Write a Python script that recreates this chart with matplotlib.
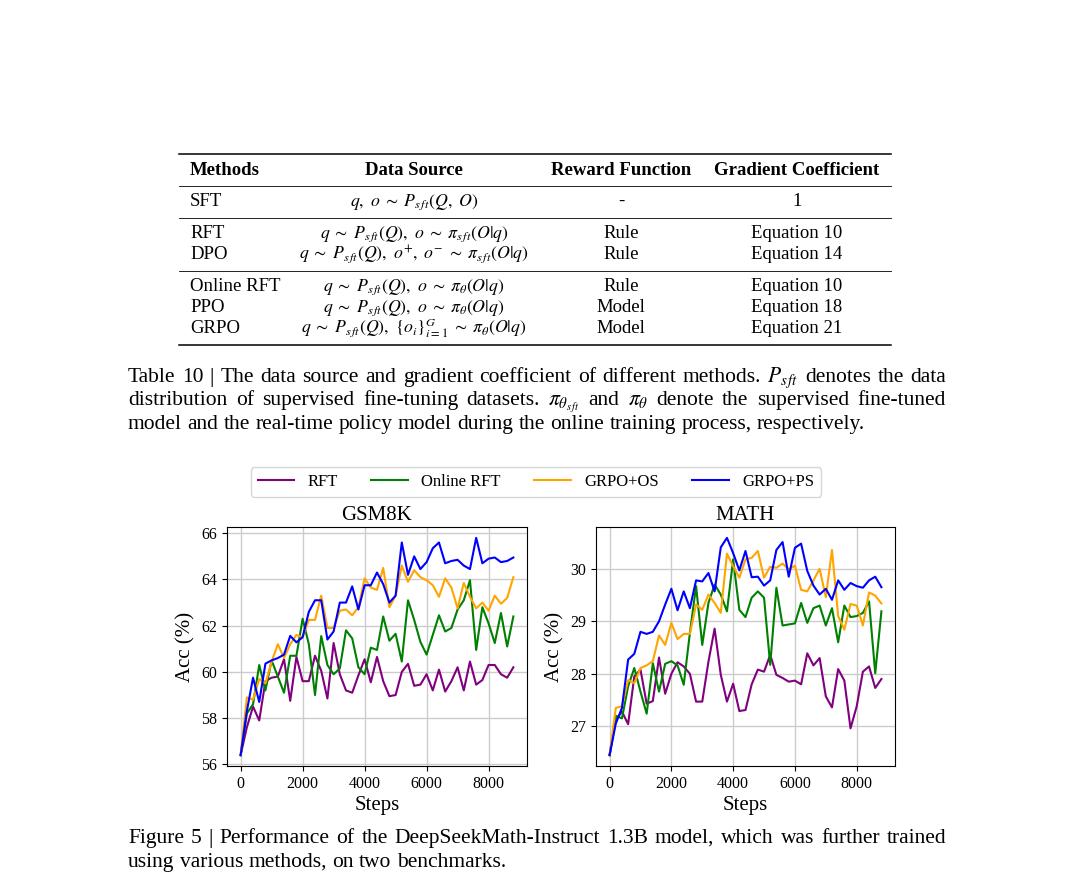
import numpy as np
import matplotlib
matplotlib.use("Agg")
import matplotlib.pyplot as plt
from matplotlib.lines import Line2D

# ---------------- data ----------------
steps = np.arange(0, 8801, 200)
series_names = ["RFT", "Online RFT", "GRPO+OS", "GRPO+PS"]
series_colors = ["purple", "green", "orange", "blue"]

gsm_rft = [56.4, 57.6, 58.5, 57.9, 59.6, 59.75, 59.8, 60.55, 58.75, 60.65, 59.6, 59.6, 60.7, 60.05, 58.85, 61.25,
           59.9, 59.2, 59.1, 59.85, 60.55, 59.55, 60.65, 59.6, 58.95, 59.0, 60.0, 60.35, 59.4, 59.45,
           59.9,
           59.2, 60.1, 59.15, 59.6, 60.2, 59.2, 60.45, 59.45, 59.65, 60.3, 60.3, 59.9, 59.75, 60.2]
gsm_online = [56.4, 58.2, 58.6, 60.3, 59.2, 60.5, 59.8, 59.1, 60.7, 60.7, 62.3, 61.2, 59.0, 61.55, 60.3, 59.9,
              60.15, 61.8, 61.45, 60.2, 59.9, 61.05, 60.95, 62.4, 61.35, 61.65, 60.45, 63.1, 62.25, 61.3,
              60.75,
              61.6, 62.45, 61.75, 61.9, 62.7, 63.1, 63.97, 60.95, 62.8, 62.1, 61.25, 62.55, 61.1, 62.4]
gsm_os = [56.4, 58.9, 58.8, 59.7, 59.5, 60.45, 61.2, 60.6, 61.2, 61.6, 61.5, 62.25, 62.25, 63.3, 61.9, 61.9,
          62.65, 62.7, 62.45, 62.8, 64.05, 63.65, 63.55, 64.5, 62.8, 63.3, 64.6, 63.9, 64.4, 64.1,
          63.97,
          63.75, 63.25, 64.05, 63.65, 62.75, 63.85, 63.25, 62.75, 63.0, 62.65, 63.3, 62.95, 63.2, 64.1]
gsm_ps = [56.4, 58.3, 59.75, 58.7, 60.36, 60.5, 60.6, 60.75, 61.56, 61.28, 61.5, 62.6, 63.1, 63.1, 61.4, 61.75,
          63.0, 63.0, 63.7, 62.7, 63.75, 63.75, 64.3, 63.8, 63.0, 63.3, 65.6, 64.2, 65.0, 64.45,
          64.75,
          65.35, 65.6, 64.7, 64.8, 64.85, 64.6, 64.45, 65.8, 64.7, 64.9, 64.95, 64.75, 64.8, 64.95]

math_rft = [26.45, 27.12, 27.28, 27.04, 27.95, 28.08, 27.43, 27.48, 28.31, 27.62, 28.0, 28.22, 28.14, 28.0, 27.47,
            27.47, 28.23, 28.86, 27.98, 27.47, 27.81, 27.29, 27.31, 27.8, 28.08, 28.04, 28.36, 27.98, 27.92,
            27.85, 27.87, 27.8, 28.39, 28.16, 28.3, 27.57, 27.36, 28.09, 27.87, 26.96, 27.38, 28.04, 28.14,
            27.73, 27.9]
math_online = [26.45, 27.2, 27.15, 27.76, 28.11, 27.66, 27.24, 28.2, 27.66, 28.19, 28.24, 28.16, 27.79, 28.78,
               29.67, 28.55, 29.35, 29.7, 29.51, 29.19, 30.18, 29.22, 29.08, 29.45, 29.57, 29.45, 28.17, 29.64,
               28.92, 28.94, 28.96, 29.35, 28.97, 29.25, 29.3, 28.92, 29.25, 28.6, 29.3, 29.08, 29.1, 29.16,
               29.38, 28.01, 29.19]
math_os = [26.45, 27.35, 27.38, 27.88, 27.82, 28.11, 28.16, 28.24, 28.73, 28.55, 28.97, 28.66, 28.76, 28.76,
           29.32, 29.22, 29.51, 29.35, 29.16, 30.29, 30.05, 29.83, 30.18, 30.21, 30.34, 29.83, 30.04, 30.02,
           30.1, 29.99, 30.06, 29.6, 29.57, 29.78, 30.0, 29.46, 30.36, 29.1, 28.84, 29.33, 29.3, 28.92, 29.55,
           29.49, 29.34]
math_ps = [26.45, 27.05, 27.35, 28.27, 28.38, 28.8, 28.76, 28.8, 29.0, 29.32, 29.62, 29.21, 29.57, 29.25, 29.78,
           29.76, 29.92, 29.57, 30.41, 30.59, 30.3, 29.97, 30.34, 29.84, 29.85, 29.68, 29.78, 30.36, 30.51,
           29.85, 30.4, 30.48, 29.96, 29.68, 29.51, 29.62, 29.41, 29.78, 29.6, 29.73, 29.67, 29.64, 29.78,
           29.85, 29.65]

gsm_yticks = [56, 58, 60, 62, 64, 66]
math_yticks = [27, 28, 29, 30]
xticks = [0, 2000, 4000, 6000, 8000]

table_header = ["Methods", "Data Source", "Reward Function", "Gradient Coefficient"]
table_rows = [
    ["SFT", r"$q,\ o \;\sim\; P_{s\,ft}(Q,\ O)$", "-", "1"],
    ["RFT", r"$q \;\sim\; P_{s\,ft}(Q),\ o \;\sim\; \pi_{s\,ft}(O|q)$", "Rule", "Equation 10"],
    ["DPO", r"$q \;\sim\; P_{s\,ft}(Q),\ o^{+},\ o^{-} \;\sim\; \pi_{s\,ft}(O|q)$", "Rule", "Equation 14"],
    ["Online RFT", r"$q \;\sim\; P_{s\,ft}(Q),\ o \;\sim\; \pi_{\theta}(O|q)$", "Rule", "Equation 10"],
    ["PPO", r"$q \;\sim\; P_{s\,ft}(Q),\ o \;\sim\; \pi_{\theta}(O|q)$", "Model", "Equation 18"],
    ["GRPO", r"$q \;\sim\; P_{s\,ft}(Q),\ \{o_i\}_{i=1}^{G} \;\sim\; \pi_{\theta}(O|q)$", "Model", "Equation 21"],
]
table_caption = [
    "Table 10 | The data source and gradient coefficient of different methods. $P_{s\\,ft}$ denotes the data",
    r"distribution of supervised fine-tuning datasets. $\pi_{\theta_{s\,ft}}$ and $\pi_{\theta}$ denote the supervised fine-tuned",
    "model and the real-time policy model during the online training process, respectively.",
]
figure_caption = [
    "Figure 5 | Performance of the DeepSeekMath-Instruct 1.3B model, which was further trained",
    "using various methods, on two benchmarks.",
]

# ---------------- figure ----------------
plt.rcParams["font.family"] = ["Liberation Serif", "DejaVu Serif"]
plt.rcParams["mathtext.fontset"] = "stix"

W, H = 1075, 894
fig = plt.figure(figsize=(W / 100, H / 100), dpi=100)
fig.patch.set_facecolor("white")


def fx(x):
    return x / W


def fy(y):
    return 1 - y / H


renderer = fig.canvas.get_renderer()
TXT = 13.5
X0, X1 = 128, 946


def word_widths(line, size):
    ws = []
    for w in line.split(" "):
        t = fig.text(0, 0, w, fontsize=size)
        ws.append(t.get_window_extent(renderer).width)
        t.remove()
    return ws


def natural_width(line, size):
    ws = word_widths(line, size)
    return sum(ws) + (len(ws) - 1) * size * 0.25 * 100 / 72


# caption size so that the natural width of the widest justified line fits the text block
just_lines = [table_caption[0], table_caption[1], figure_caption[0]]
CAP = min(10 * (X1 - X0) / natural_width(l, 10) for l in just_lines)
CAP = min(CAP * 0.985, 15.5)


def text_line(yc, line, justify, size):
    words = line.split(" ")
    base = yc + 5
    ts = [fig.text(0, fy(base), w, fontsize=size, va="baseline", ha="left") for w in words]
    widths = [t.get_window_extent(renderer).width for t in ts]
    if justify and len(words) > 1:
        gap = (X1 - X0 - sum(widths)) / (len(words) - 1)
    else:
        gap = size * 0.25 * 100 / 72
    x = X0
    for t, w in zip(ts, widths):
        t.set_x(fx(x))
        x += w + gap


def hrule(y, lw):
    fig.add_artist(Line2D([fx(179), fx(891)], [fy(y), fy(y)], transform=fig.transFigure,
                          color="black", lw=lw))


# ---- table ----
hrule(154, 1.1)
hrule(185.5, 0.6)
hrule(217.5, 0.6)
hrule(270.5, 0.6)
hrule(345, 1.1)

col_x = [190, 414, 621, 797]
col_ha = ["left", "center", "center", "center"]
row_y = [201, 233, 254, 286, 307, 328]
for j, h in enumerate(table_header):
    fig.text(fx(col_x[j]), fy(170 + 5), h, fontsize=TXT, fontweight="bold", ha=col_ha[j], va="baseline")
for i, row in enumerate(table_rows):
    for j, c in enumerate(row):
        size = 12.8 if j == 1 else TXT
        fig.text(fx(col_x[j]), fy(row_y[i] + 5), c, fontsize=size, ha=col_ha[j], va="baseline")

# ---- captions ----
cap_y = [377, 400, 424]
for k, line in enumerate(table_caption):
    text_line(cap_y[k], line, k < 2, CAP)
fcap_y = [838, 862]
for k, line in enumerate(figure_caption):
    text_line(fcap_y[k], line, k < 1, CAP)

# ---- charts ----
ax1 = fig.add_axes([fx(227), fy(766), fx(527) - fx(227), fy(527) - fy(766)])
ax2 = fig.add_axes([fx(596), fy(766), fx(895) - fx(596), fy(527) - fy(766)])

panels = [
    (ax1, "GSM8K", [gsm_rft, gsm_online, gsm_os, gsm_ps], gsm_yticks),
    (ax2, "MATH", [math_rft, math_online, math_os, math_ps], math_yticks),
]
for ax, title, data, yt in panels:
    for name, col, vals in zip(series_names, series_colors, data):
        ax.plot(steps, vals, color=col, lw=1.5, label=name)
    ax.set_title(title, fontsize=15, pad=5)
    ax.set_xlabel("Steps", fontsize=15, labelpad=3)
    ax.set_ylabel("Acc (%)", fontsize=15, labelpad=4)
    ax.set_xticks(xticks)
    ax.set_yticks(yt)
    ax.tick_params(labelsize=11.5)
    ax.grid(True, color="0.8", lw=1.0)
    ax.set_axisbelow(True)

handles = [Line2D([], [], color=c, lw=1.5) for c in series_colors]
fig.legend(handles, series_names, loc="center", bbox_to_anchor=(fx(536), fy(482)), ncol=4,
           fontsize=12, handlelength=2.2, frameon=True)

fig.savefig("out.png", dpi=100)
